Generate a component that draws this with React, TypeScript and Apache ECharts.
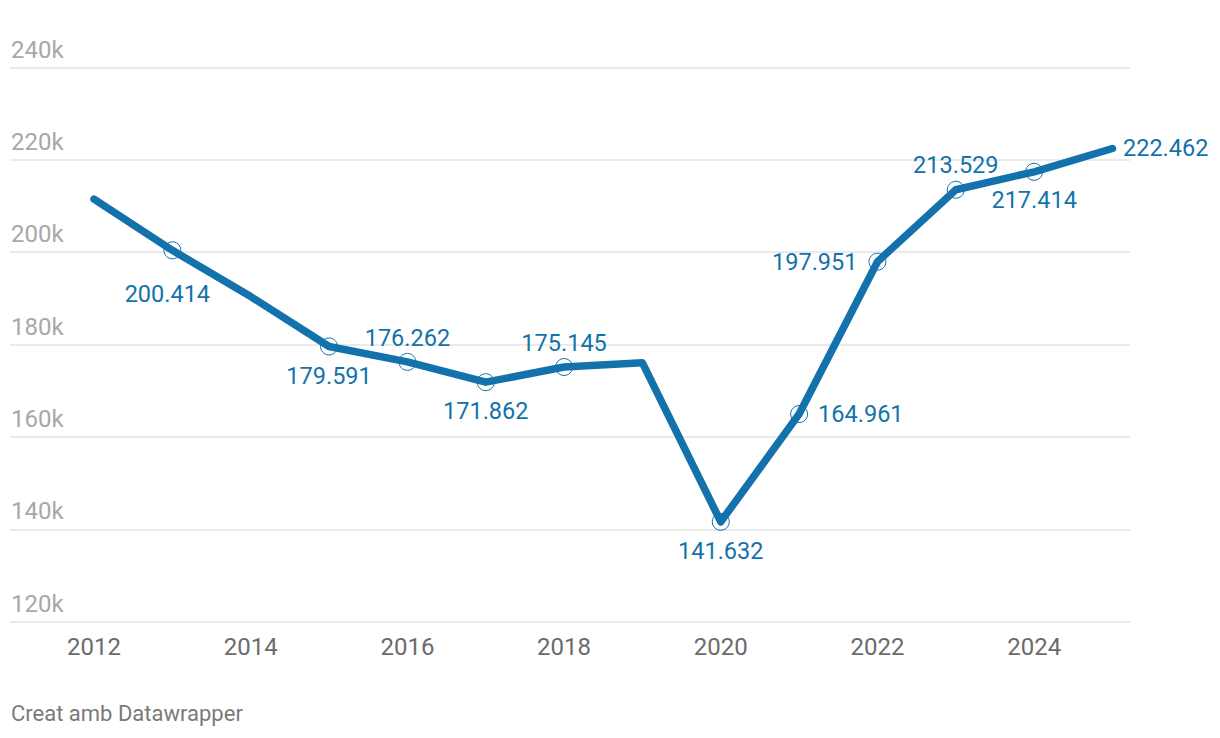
import React, { useEffect, useRef } from "react";
import * as echarts from "echarts";

const years = [2012, 2013, 2014, 2015, 2016, 2017, 2018, 2019, 2020, 2021, 2022, 2023, 2024, 2025];
const values = [211500, 200414, 190400, 179591, 176262, 171862, 175145, 176050, 141632, 164961, 197951, 213529, 217414, 222462];
const labeled = [false, true, false, true, true, true, true, false, true, true, true, true, true, true];
const xTickLabels = [2012, 2014, 2016, 2018, 2020, 2022, 2024];
const yTicks = [120000, 140000, 160000, 180000, 200000, 220000, 240000];

// label placement per year (style, not data)
const labelPlacement: Record<number, { position: string; distance: number; offset?: number[] }> = {
  2013: { position: "bottom", distance: 23, offset: [-5, 0] },
  2015: { position: "bottom", distance: 9 },
  2016: { position: "top", distance: 3 },
  2017: { position: "bottom", distance: 8 },
  2018: { position: "top", distance: 3 },
  2020: { position: "bottom", distance: 8 },
  2021: { position: "right", distance: 10 },
  2022: { position: "left", distance: 11 },
  2023: { position: "top", distance: 4 },
  2024: { position: "bottom", distance: 7 },
  2025: { position: "right", distance: 1.5 },
};

const BLUE = "#1372ab";
const FONT = "Roboto";

function fmt(v: number) {
  return Math.round(v).toString().replace(/\B(?=(\d{3})+(?!\d))/g, ".");
}

export default function App() {
  const ref = useRef<HTMLDivElement>(null);
  useEffect(() => {
    if (!ref.current) return;
    const chart = echarts.init(ref.current, undefined, { renderer: "svg" });
    const data = years.map((y, i) => {
      const lp = labelPlacement[y];
      const item: any = { value: [y, values[i]] };
      if (!labeled[i]) {
        item.symbol = "none";
        item.label = { show: false };
      } else {
        item.label = {
          show: true,
          position: lp.position,
          distance: lp.distance,
          offset: lp.offset || [0, 0],
        };
        if (y === 2025) item.itemStyle = { borderColor: "transparent" };
      }
      return item;
    });
    chart.setOption({
      animation: false,
      backgroundColor: "#ffffff",
      textStyle: { fontFamily: FONT },
      grid: { left: 10, right: 90, top: 67.5, bottom: 116.3, containLabel: false },
      xAxis: {
        type: "value",
        min: 2012 - 84 / 78.33,
        max: 2025 + 17.5 / 78.33,
        axisLine: { show: false },
        axisTick: { show: false },
        splitLine: { show: false },
        axisLabel: {
          customValues: xTickLabels,
          color: "#6b6b6b",
          fontSize: 24,
          fontFamily: FONT,
          margin: 13,
          formatter: (v: number) => String(v),
        },
      },
      yAxis: {
        type: "value",
        min: 120000,
        max: 240000,
        interval: 20000,
        axisLine: { show: false },
        axisTick: { show: false },
        splitLine: { show: true, lineStyle: { color: "#e3e3e3", width: 1.5 } },
        axisLabel: {
          inside: true,
          margin: 1,
          verticalAlign: "bottom",
          padding: [0, 0, 6, 0],
          color: "#a8a8a8",
          fontSize: 24,
          fontFamily: FONT,
          formatter: (v: number) => (yTicks.includes(v) ? v / 1000 + "k" : ""),
        },
      },
      series: [
        {
          type: "line",
          data,
          z: 3,
          symbol: "circle",
          symbolSize: 17,
          showSymbol: true,
          showAllSymbol: true,
          lineStyle: { color: BLUE, width: 7.5, cap: "round", join: "round" },
          itemStyle: { color: "transparent", borderColor: BLUE, borderWidth: 1 },
          emphasis: { disabled: true },
          label: {
            show: true,
            color: BLUE,
            fontSize: 23.5,
            fontFamily: FONT,
            formatter: (p: any) => fmt(p.value[1]),
          },
        },
      ],
      graphic: [
        {
          type: "text",
          left: 11,
          top: 702,
          style: { text: "Creat amb Datawrapper", fill: "#7a7a7a", font: `22px ${FONT}` },
        },
      ],
    });
    return () => chart.dispose();
  }, []);
  return <div ref={ref} style={{ width: 1220, height: 738, position: "absolute", left: 0, top: 0 }} />;
}
